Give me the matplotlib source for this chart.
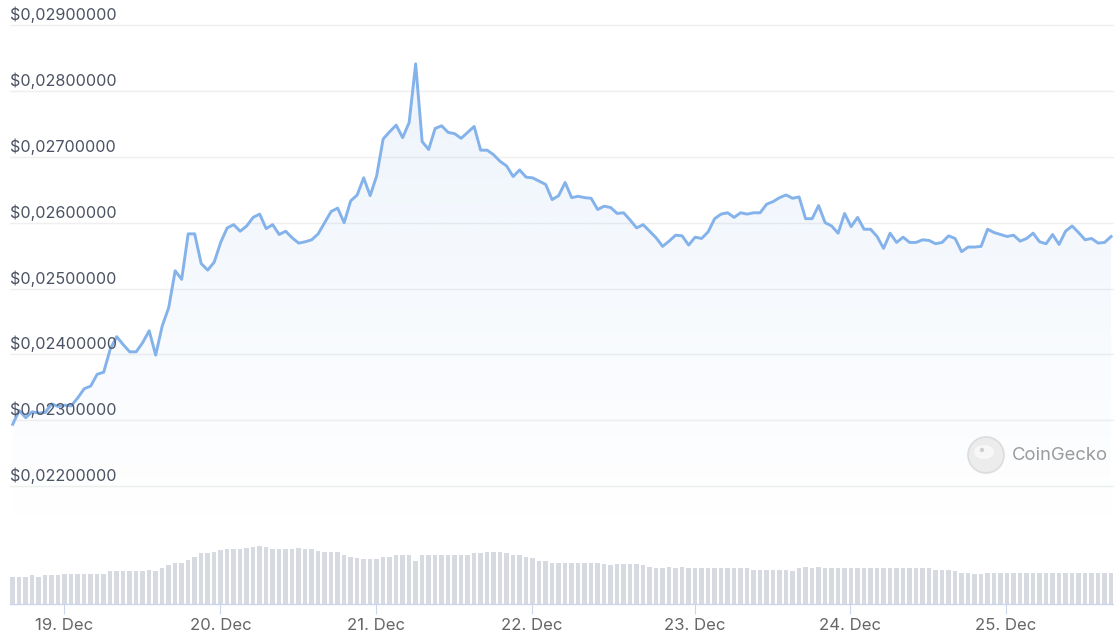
import matplotlib.pyplot as plt
import matplotlib.transforms as mtransforms
import numpy as np
from matplotlib.colors import to_rgb
from matplotlib.patches import Circle, Ellipse, PathPatch

plt.rcParams["font.family"] = ["Inter", "DejaVu Sans"]

# hourly price in USD, 18 Dec ~16:00 -> 25 Dec ~17:00 (x1000)
price_milli = [
    22.94, 23.15, 23.04, 23.13, 23.11, 23.12, 23.25, 23.21, 23.23, 23.22,
    23.34, 23.48, 23.52, 23.70, 23.73, 24.08, 24.27, 24.15, 24.04, 24.04,
    24.18, 24.36, 23.99, 24.43, 24.71, 25.27, 25.14, 25.83, 25.83, 25.38,
    25.28, 25.40, 25.70, 25.92, 25.97, 25.87, 25.95, 26.08, 26.13, 25.91,
    25.97, 25.82, 25.87, 25.77, 25.69, 25.71, 25.74, 25.83, 26.00, 26.17,
    26.22, 26.00, 26.33, 26.42, 26.68, 26.41, 26.71, 27.27, 27.38, 27.48,
    27.29, 27.52, 28.41, 27.23, 27.11, 27.43, 27.47, 27.37, 27.35, 27.28,
    27.37, 27.46, 27.10, 27.10, 27.03, 26.93, 26.86, 26.70, 26.80, 26.69,
    26.68, 26.63, 26.58, 26.35, 26.41, 26.61, 26.38, 26.40, 26.38, 26.37,
    26.20, 26.25, 26.23, 26.14, 26.15, 26.04, 25.92, 25.97, 25.87, 25.77,
    25.64, 25.72, 25.81, 25.80, 25.66, 25.78, 25.76, 25.86, 26.06, 26.13,
    26.15, 26.08, 26.15, 26.13, 26.15, 26.15, 26.28, 26.32, 26.38, 26.42,
    26.37, 26.39, 26.06, 26.06, 26.26, 26.00, 25.95, 25.84, 26.14, 25.94,
    26.08, 25.90, 25.90, 25.79, 25.61, 25.84, 25.70, 25.78, 25.70, 25.70,
    25.74, 25.73, 25.68, 25.70, 25.80, 25.76, 25.56, 25.63, 25.63, 25.64,
    25.90, 25.85, 25.82, 25.79, 25.81, 25.72, 25.76, 25.84, 25.71, 25.68,
    25.82, 25.67, 25.87, 25.95, 25.85, 25.74, 25.76, 25.69, 25.70, 25.79,
]

# volume bars, relative heights (the chart shows no volume scale)
volume = [
    26.8, 26.8, 26.8, 28.6, 26.8, 28.6, 28.6, 28.6, 30.0, 30.0,
    30.0, 30.0, 30.0, 30.0, 30.0, 32.9, 32.9, 32.9, 32.9, 32.9,
    32.9, 33.9, 32.9, 35.7, 39.3, 40.7, 40.7, 44.3, 47.5, 50.7,
    50.7, 52.1, 53.6, 55.0, 55.0, 55.0, 56.1, 56.8, 58.2, 57.1,
    55.0, 55.0, 55.0, 55.0, 56.4, 55.0, 55.0, 53.2, 52.1, 52.1,
    52.1, 48.9, 47.5, 46.1, 44.6, 44.6, 44.6, 47.5, 47.5, 48.9,
    48.9, 48.9, 42.9, 48.9, 48.9, 48.9, 48.9, 48.9, 48.9, 48.9,
    48.9, 50.7, 50.7, 52.1, 52.1, 52.1, 50.7, 48.9, 48.9, 47.5,
    46.1, 42.9, 42.9, 41.4, 41.4, 41.4, 41.4, 41.4, 41.4, 41.4,
    40.7, 40.0, 38.6, 40.0, 40.0, 40.0, 40.0, 38.6, 37.1, 35.7,
    35.7, 37.1, 35.7, 37.1, 35.7, 35.7, 35.7, 35.7, 35.7, 35.7,
    35.7, 35.7, 35.7, 35.7, 34.3, 34.3, 34.3, 34.3, 34.3, 34.3,
    32.9, 35.7, 37.1, 35.7, 37.1, 35.7, 35.7, 35.7, 35.7, 35.7,
    35.7, 35.7, 35.7, 35.7, 35.7, 35.7, 35.7, 35.7, 35.7, 35.7,
    35.7, 35.7, 34.3, 34.3, 34.3, 32.9, 31.4, 31.4, 30.0, 30.0,
    31.4, 31.4, 31.4, 31.4, 31.4, 31.4, 31.4, 31.4, 31.4, 31.4,
    31.4, 31.4, 31.4, 31.4, 31.4, 31.4, 31.4, 31.4, 31.4, 31.4,
]

y_ticks = [0.022, 0.023, 0.024, 0.025, 0.026, 0.027, 0.028, 0.029]
y_tick_labels = ["$0,02200000", "$0,02300000", "$0,02400000", "$0,02500000",
                 "$0,02600000", "$0,02700000", "$0,02800000", "$0,02900000"]
day_labels = ["19. Dec", "20. Dec", "21. Dec", "22. Dec", "23. Dec", "24. Dec", "25. Dec"]
# ordinal axis: position of midnight in units of data points
day_tick_index = [7.9, 31.95, 55.9, 79.9, 105.0, 128.9, 152.8]

price = np.array(price_milli) / 1000
idx = np.arange(len(price))

W, H = 1114, 640
fig = plt.figure(figsize=(W / 100, H / 100), dpi=100)
fig.patch.set_facecolor("white")

line_col = "#84b2ea"
x_lim = (-0.415, 169.45)
y_lim = (0.021336, 0.029379)

# price panel
ax = fig.add_axes([10 / W, 1 - 530 / H, 1104 / W, 530 / H])
ax.set_xlim(*x_lim)
ax.set_ylim(*y_lim)
ax.axis("off")

for v in y_ticks:
    ax.axhline(v, color="#efefef", lw=1.0, zorder=0)

trans = mtransforms.blended_transform_factory(ax.transAxes, ax.transData)
trans = mtransforms.offset_copy(trans, fig=fig, y=2, units="dots")
for v, lab in zip(y_ticks, y_tick_labels):
    ax.text(0, v, lab, transform=trans, ha="left", va="bottom",
            fontsize=11.6, color="#4b5262", zorder=5)

# gradient fill under the line
poly = ax.fill_between(idx, price, y_lim[0], color="none", lw=0)
clip = PathPatch(poly.get_paths()[0], transform=ax.transData,
                 facecolor="none", edgecolor="none")
ax.add_patch(clip)
rgba = np.zeros((256, 1, 4))
rgba[..., :3] = to_rgb(line_col)
rgba[..., 3] = np.linspace(0.14, 0.0, 256)[:, None]
im = ax.imshow(rgba, extent=[x_lim[0], x_lim[1], y_lim[0], 0.0284],
               aspect="auto", origin="upper", zorder=1, interpolation="bilinear")
im.set_clip_path(clip)
ax.set_xlim(*x_lim)
ax.set_ylim(*y_lim)

ax.plot(idx, price, color=line_col, lw=2.1, solid_joinstyle="round", zorder=3)

# volume panel
axv = fig.add_axes([10 / W, (H - 604) / H, 1104 / W, 60 / H])
axv.set_xlim(*x_lim)
axv.set_ylim(0, 60)
axv.bar(idx, volume, width=0.68, color="#d7dae0", lw=0)
for s in ["top", "left", "right"]:
    axv.spines[s].set_visible(False)
axv.spines["bottom"].set_color("#ccd6eb")
axv.spines["bottom"].set_linewidth(1.0)
axv.set_yticks([])
axv.set_xticks(day_tick_index)
axv.set_xticklabels(day_labels)
axv.tick_params(axis="x", length=7.5, width=0.8, color="#ccd6eb",
                labelcolor="#666666", labelsize=12, pad=2.5)
axv.patch.set_alpha(0)

# CoinGecko watermark
wm = fig.add_axes([0, 0, 1, 1])
wm.set_xlim(0, W)
wm.set_ylim(H, 0)
wm.axis("off")
wm.patch.set_alpha(0)
wm.add_patch(Circle((986, 455), 18, facecolor="#ececec", edgecolor="#dcdcdc", lw=1.2))
wm.add_patch(Ellipse((984, 452), 20, 14, facecolor="#f7f7f7", edgecolor="none"))
wm.add_patch(Circle((982, 450), 2.2, facecolor="#cfcfcf", edgecolor="none"))
wm.text(1012, 456, "CoinGecko", fontsize=13.3, color="#9b9b9b", ha="left", va="center")

fig.savefig("out.png", dpi=100, facecolor="white")
